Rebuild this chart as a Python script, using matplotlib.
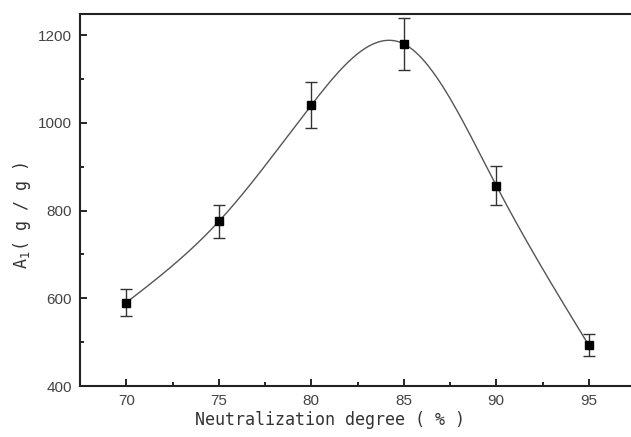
import numpy as np
import matplotlib
matplotlib.use('Agg')
from matplotlib import pyplot as plt
from matplotlib.ticker import MultipleLocator

# datos
grado = [70, 75, 80, 85, 90, 95]
absorcion = [590, 775, 1040, 1180, 857, 493]
error = [30, 38, 52, 60, 44, 25]


# spline cúbico natural a través de los puntos (curva suave)
def spline_natural(x, y, xs):
    x = np.asarray(x, float)
    y = np.asarray(y, float)
    n = len(x)
    h = np.diff(x)
    A = np.zeros((n, n))
    b = np.zeros(n)
    A[0, 0] = 1
    A[-1, -1] = 1
    for i in range(1, n - 1):
        A[i, i - 1] = h[i - 1]
        A[i, i] = 2 * (h[i - 1] + h[i])
        A[i, i + 1] = h[i]
        b[i] = 6 * ((y[i + 1] - y[i]) / h[i] - (y[i] - y[i - 1]) / h[i - 1])
    M = np.linalg.solve(A, b)
    ys = np.zeros_like(xs)
    for k, t in enumerate(xs):
        i = min(np.searchsorted(x, t) - 1, n - 2)
        i = max(i, 0)
        a = x[i + 1] - t
        c = t - x[i]
        ys[k] = (M[i] * a**3 + M[i + 1] * c**3) / (6 * h[i]) \
            + (y[i] / h[i] - M[i] * h[i] / 6) * a \
            + (y[i + 1] / h[i] - M[i + 1] * h[i] / 6) * c
    return ys


W, H = 631, 437
fig = plt.figure(figsize=(W / 100, H / 100), dpi=100)
ax = fig.add_axes([80 / W, 51 / H, 555 / W, 372 / H])

xs = np.linspace(grado[0], grado[-1], 300)
ax.plot(xs, spline_natural(grado, absorcion, xs), color='#555555', lw=1.0, zorder=2)
ax.errorbar(grado, absorcion, yerr=error, fmt='s', color='black', ms=6,
            ecolor='#333333', elinewidth=1.0, capsize=4, capthick=1.0, zorder=3)

ax.set_xlim(67.5, 97.5)
ax.set_ylim(400, 1248)
ax.xaxis.set_major_locator(MultipleLocator(5))
ax.xaxis.set_minor_locator(MultipleLocator(2.5))
ax.yaxis.set_major_locator(MultipleLocator(200))
ax.yaxis.set_minor_locator(MultipleLocator(100))
ax.tick_params(which='both', direction='in', top=False, right=False,
               labelsize=11, labelcolor='#444444', width=1.2)
ax.tick_params(which='major', length=5, pad=6)
ax.tick_params(which='minor', length=3)
for lab in ax.get_xticklabels() + ax.get_yticklabels():
    lab.set_family('Liberation Sans')
for s in ax.spines.values():
    s.set_linewidth(1.5)
    s.set_color('#222222')

fig.text(330 / W, 17 / H, 'Neutralization degree ( % )', ha='center', va='center',
         family='DejaVu Sans Mono', fontsize=12, color='#333333')
fig.text(22 / W, 1 - 216 / H, 'A$_1$( g / g )', ha='center', va='center', rotation=90,
         family='DejaVu Sans Mono', fontsize=12, color='#333333')

fig.savefig('out.png', dpi=100)
